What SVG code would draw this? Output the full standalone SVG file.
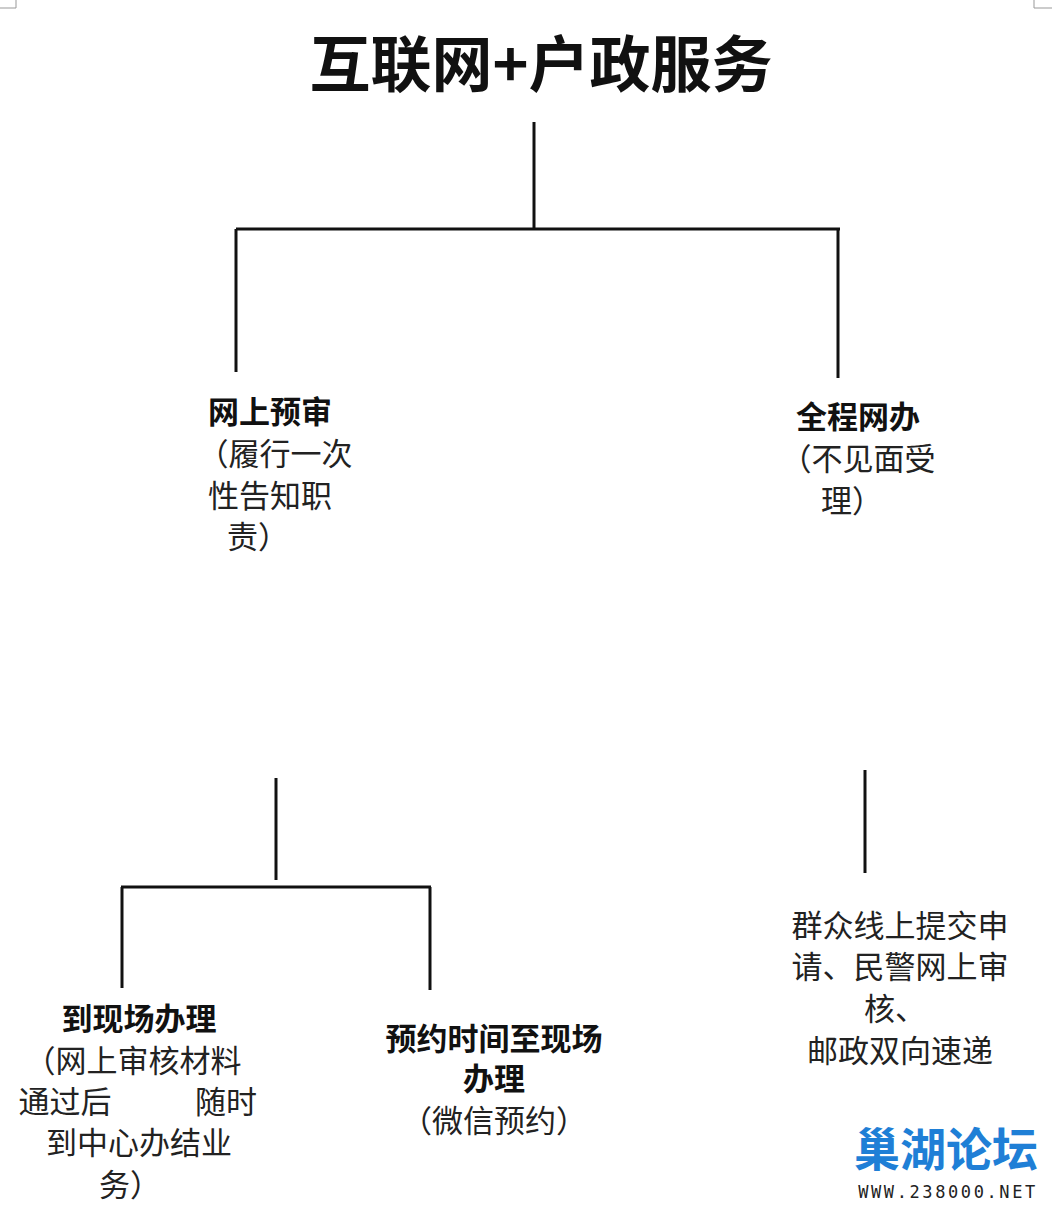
<svg xmlns="http://www.w3.org/2000/svg" width="1052" height="1211" viewBox="0 0 1052 1211">
<style>
.t{font-family:"Noto Sans CJK SC","Liberation Sans",sans-serif;font-size:31px;fill:#222;text-anchor:middle}
.b{font-weight:bold;fill:#111}
.c line{stroke:#111;stroke-width:3}
</style>
<rect width="1052" height="1211" fill="#fff"/>
<g id="cropmarks" stroke="#999" stroke-width="1">
<line x1="0" y1="8" x2="16" y2="8"/><line x1="16" y1="0" x2="16" y2="8"/>
<line x1="1034" y1="0" x2="1034" y2="8"/><line x1="1034" y1="8" x2="1052" y2="8"/>
</g>
<g id="title"><text class="t b" x="541" y="87" style="font-size:61px">互联网+户政服务</text></g>
<g class="c" id="connectors">
<line x1="534" y1="122" x2="534" y2="228"/>
<line x1="236" y1="229" x2="840" y2="229"/>
<line x1="236" y1="229" x2="236" y2="372"/>
<line x1="838" y1="229" x2="838" y2="378"/>
<line x1="276" y1="778" x2="276" y2="880"/>
<line x1="121" y1="887" x2="431" y2="887"/>
<line x1="122" y1="887" x2="122" y2="988"/>
<line x1="430" y1="887" x2="430" y2="990"/>
<line x1="865" y1="770" x2="865" y2="873"/>
</g>
<g id="n1"><text class="t b" x="270" y="423">网上预审</text>
<text class="t" x="275" y="465">（履行一次</text><text class="t" x="270" y="507">性告知职</text><text class="t" x="258" y="548">责）</text></g>
<g id="n2"><text class="t b" x="858" y="428">全程网办</text>
<text class="t" x="858" y="470">（不见面受</text><text class="t" x="852" y="512">理）</text></g>
<g id="n3"><text class="t b" x="139" y="1030">到现场办理</text>
<text class="t" x="133" y="1072">（网上审核材料</text>
<text class="t" x="65" y="1113">通过后</text><text class="t" x="226" y="1113">随时</text>
<text class="t" x="139" y="1154">到中心办结业</text><text class="t" x="130" y="1196">务）</text></g>
<g id="n4"><text class="t b" x="494" y="1050">预约时间至现场</text><text class="t b" x="494" y="1090">办理</text>
<text class="t" x="494" y="1132">（微信预约）</text></g>
<g id="n5"><text class="t" x="900" y="937">群众线上提交申</text><text class="t" x="900" y="978">请、民警网上审</text>
<text class="t" x="895" y="1020">核、</text><text class="t" x="900" y="1062">邮政双向速递</text></g>
<g id="watermark"><text x="946" y="1166" style="font-family:'Noto Sans CJK SC',sans-serif;font-size:46px;font-weight:bold;fill:#1f7fd6;text-anchor:middle">巢湖论坛</text>
<text x="948" y="1198" style="font-family:'DejaVu Sans Mono',monospace;font-size:17px;letter-spacing:2.6px;fill:#222;text-anchor:middle">WWW.238000.NET</text></g>
</svg>
